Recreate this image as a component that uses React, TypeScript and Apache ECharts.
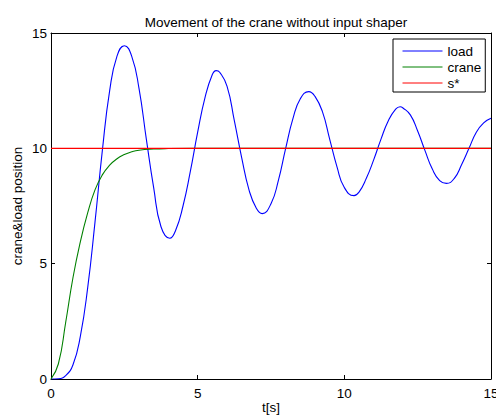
import React, { useEffect, useRef } from "react";
import * as echarts from "echarts";

const loadT = [0, 0.25, 0.5, 0.75, 1.0, 1.25, 1.5, 1.75, 2.0, 2.25, 2.5, 2.75, 3.0, 3.25, 3.5, 3.75, 4.05, 4.25, 4.5, 4.75, 5.0, 5.25, 5.5, 5.63, 5.75, 6.0, 6.25, 6.5, 6.75, 7.0, 7.2, 7.5, 7.75, 8.0, 8.25, 8.5, 8.79, 9.0, 9.25, 9.5, 9.75, 10.0, 10.33, 10.5, 10.75, 11.0, 11.25, 11.5, 11.75, 11.9, 12.0, 12.25, 12.5, 12.75, 13.0, 13.25, 13.48, 13.75, 14.0, 14.25, 14.5, 14.75, 15.0];
const loadV = [0, 0.01, 0.15, 0.62, 1.85, 3.95, 6.8, 9.9, 12.5, 14.0, 14.45, 14.0, 12.6, 10.4, 8.3, 6.6, 6.1, 6.45, 7.5, 9.0, 10.7, 12.2, 13.2, 13.37, 13.3, 12.7, 11.2, 9.6, 8.2, 7.4, 7.17, 7.6, 8.6, 10.0, 11.3, 12.15, 12.46, 12.25, 11.6, 10.4, 9.2, 8.3, 7.95, 8.1, 8.7, 9.5, 10.4, 11.2, 11.7, 11.8, 11.75, 11.45, 10.75, 9.9, 9.1, 8.6, 8.48, 8.7, 9.3, 10.0, 10.7, 11.1, 11.3];

const craneT = [0, 0.25, 0.5, 0.75, 1.0, 1.25, 1.5, 1.75, 2.0, 2.25, 2.5, 2.75, 3.0, 3.5, 4.0, 5.0, 10.0, 15.0];
const craneV = [0, 0.65, 2.45, 4.4, 5.95, 7.2, 8.2, 8.85, 9.27, 9.55, 9.73, 9.85, 9.92, 9.97, 9.99, 10, 10, 10];

const sT = [0, 15];
const sV = [10, 10];

const xTicks = [0, 5, 10, 15];
const yTicks = [0, 5, 10, 15];

const FONT = "'Liberation Sans', Arial, Helvetica, sans-serif";
const FS = 13.5;

export default function App() {
  const ref = useRef<HTMLDivElement>(null);
  useEffect(() => {
    if (!ref.current) return;
    const chart = echarts.init(ref.current, undefined, { renderer: "svg" });
    const pair = (t: number[], v: number[]) => t.map((x, i) => [x, v[i]]);
    const axisCommon = {
      type: "value" as const,
      interval: 5,
      splitLine: { show: false },
      axisLine: { show: true, onZero: false, lineStyle: { color: "#000", width: 1 } },
      axisTick: { show: true, inside: true, length: 4, lineStyle: { color: "#000" } },
    };
    chart.setOption({
      animation: false,
      backgroundColor: "#fff",
      textStyle: { fontFamily: FONT },
      title: {
        text: "Movement of the crane without input shaper",
        left: 271,
        top: 10,
        textAlign: "center",
        textStyle: { fontFamily: FONT, fontSize: FS, fontWeight: "normal", color: "#000" },
      },
      grid: { left: 51, right: 5, top: 33, bottom: 36, containLabel: false, outerBoundsMode: "none" },
      legend: {
        orient: "vertical",
        left: 393,
        top: 39,
        padding: [5, 4, 2, 9],
        itemWidth: 40,
        itemHeight: 14,
        itemGap: 2,
        itemTextGap: 5,
        borderColor: "#000",
        borderWidth: 1,
        backgroundColor: "#fff",
        borderRadius: 0,
        itemStyle: { opacity: 0 },
        lineStyle: { width: 1 },
        textStyle: { fontFamily: FONT, fontSize: FS, color: "#000" },
        data: ["load", "crane", "s*"],
      },
      xAxis: [
        {
          ...axisCommon,
          min: xTicks[0],
          max: xTicks[xTicks.length - 1],
          position: "bottom",
          name: "t[s]",
          nameLocation: "middle",
          nameGap: 21,
          nameMoveOverlap: false,
          nameTextStyle: { fontFamily: FONT, fontSize: FS, color: "#000" },
          axisLabel: { show: true, margin: 7, fontFamily: FONT, fontSize: FS, color: "#000" },
        },
        {
          ...axisCommon,
          min: xTicks[0],
          max: xTicks[xTicks.length - 1],
          position: "top",
          axisLabel: { show: false },
        },
      ],
      yAxis: [
        {
          ...axisCommon,
          min: yTicks[0],
          max: yTicks[yTicks.length - 1],
          position: "left",
          name: "crane&load position",
          nameLocation: "middle",
          nameGap: 27,
          nameMoveOverlap: false,
          nameTextStyle: { fontFamily: FONT, fontSize: FS, color: "#000" },
          axisLabel: { show: true, margin: 4, fontFamily: FONT, fontSize: FS, color: "#000" },
        },
        {
          ...axisCommon,
          min: yTicks[0],
          max: yTicks[yTicks.length - 1],
          position: "right",
          axisLabel: { show: false },
        },
      ],
      series: [
        {
          name: "load",
          type: "line",
          data: pair(loadT, loadV),
          smooth: 0.5,
          symbol: "none",
          lineStyle: { color: "#0000ff", width: 1.1 },
          itemStyle: { color: "#0000ff" },
        },
        {
          name: "crane",
          type: "line",
          data: pair(craneT, craneV),
          smooth: 0.5,
          symbol: "none",
          lineStyle: { color: "#008000", width: 1.1 },
          itemStyle: { color: "#008000" },
        },
        {
          name: "s*",
          type: "line",
          data: pair(sT, sV),
          symbol: "none",
          lineStyle: { color: "#ff0000", width: 1.4 },
          itemStyle: { color: "#ff0000" },
        },
      ],
    });
    return () => chart.dispose();
  }, []);
  return (
    <div
      ref={ref}
      style={{ position: "absolute", left: 0, top: 0, width: 496, height: 415 }}
    />
  );
}
